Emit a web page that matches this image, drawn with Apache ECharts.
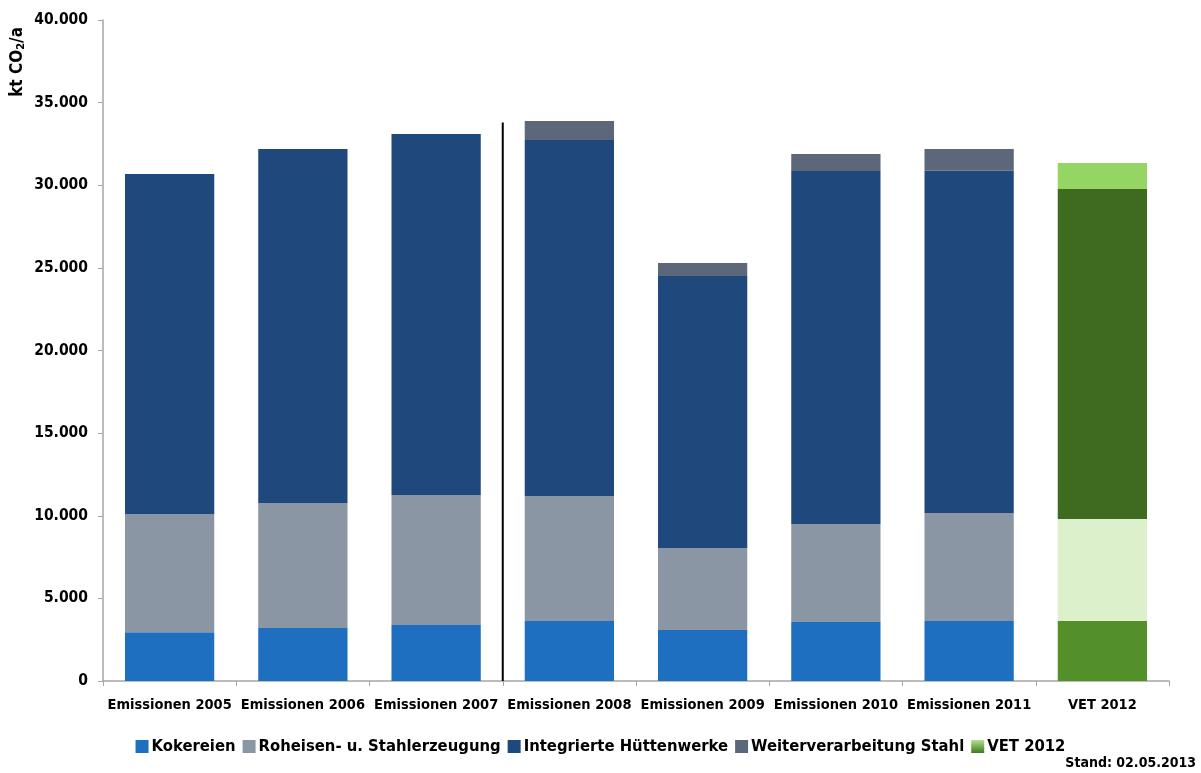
<!DOCTYPE html>
<html>
<head>
<meta charset="utf-8">
<script src="https://cdn.jsdelivr.net/npm/echarts@6/dist/echarts.min.js"></script>
<style>
  html, body { margin: 0; padding: 0; background: #fff; }
  #chart { width: 1201px; height: 773px; }
</style>
</head>
<body>
<div id="chart"></div>
<script>
// CO2 emissions of the iron & steel sector (kt CO2/a)
const categories = ['Emissionen 2005', 'Emissionen 2006', 'Emissionen 2007', 'Emissionen 2008',
  'Emissionen 2009', 'Emissionen 2010', 'Emissionen 2011', 'VET 2012'];

const kokereien      = [2950, 3200, 3390, 3630, 3090, 3570, 3630, 3630];
const roheisen       = [7150, 7570, 7860, 7570, 4960, 5930, 6540, 6170];
const integrierte    = [20580, 21420, 21850, 21540, 16460, 21360, 20700, 19970];
const weiterverarb   = [0, 0, 0, 1150, 790, 1030, 1330, 1570];

const seriesNames = ['Kokereien', 'Roheisen- u. Stahlerzeugung', 'Integrierte Hüttenwerke', 'Weiterverarbeitung Stahl'];
const emissionColors = ['#1F6FC0', '#8A96A3', '#1F497D', '#5C6779'];
const vetColors = ['#53902A', '#DBF0CB', '#3E6B1F', '#95D564'];
const vetIndex = 7;

// separator between 2007 and 2008 (position on a 0..8 helper axis, height in kt)
const separatorX = 3;
const separatorTop = 33800;

const yTicks = { min: 0, max: 40000, interval: 5000 };

const FONT = '"DejaVu Sans Condensed", "Liberation Sans Narrow", sans-serif';

function buildData(values, s) {
  return values.map((v, i) => {
    if (i === vetIndex) return { value: v, itemStyle: { color: vetColors[s] } };
    return v;
  });
}

const allValues = [kokereien, roheisen, integrierte, weiterverarb];

const series = allValues.map((vals, s) => ({
  name: seriesNames[s],
  type: 'bar',
  stack: 'total',
  barCategoryGap: '33%',
  itemStyle: { color: emissionColors[s] },
  data: buildData(vals, s)
}));

// legend-only entry for the VET 2012 colour family
series.push({
  name: 'VET 2012',
  type: 'bar',
  stack: 'total',
  itemStyle: {
    color: new echarts.graphic.LinearGradient(0, 0, 0, 1, [
      { offset: 0, color: '#B5E08F' },
      { offset: 1, color: '#3E7A1F' }
    ])
  },
  data: []
});

series.push({
  name: 'separator',
  type: 'line',
  xAxisIndex: 1,
  symbol: 'none',
  silent: true,
  lineStyle: { color: '#000', width: 2 },
  data: [[separatorX, 0], [separatorX, separatorTop]],
  z: 5
});

const chart = echarts.init(document.getElementById('chart'));
chart.setOption({
  animation: false,
  textStyle: { fontFamily: FONT },
  grid: { left: 103, right: 32, top: 20, bottom: 92, containLabel: false },
  xAxis: [{
    type: 'category',
    data: categories,
    axisLine: { lineStyle: { color: '#A6A6A6', width: 1.5 } },
    axisTick: { show: true, length: 5, lineStyle: { color: '#A6A6A6' } },
    axisLabel: { interval: 0, color: '#000', fontSize: 14.5, fontWeight: 'bold', fontFamily: FONT, margin: 17 }
  }, {
    type: 'value',
    min: 0, max: 8,
    show: false
  }],
  yAxis: {
    type: 'value',
    min: yTicks.min, max: yTicks.max, interval: yTicks.interval,
    splitLine: { show: false },
    axisLine: { show: true, lineStyle: { color: '#A6A6A6', width: 1.5 } },
    axisTick: { show: true, length: 5, lineStyle: { color: '#A6A6A6' } },
    axisLabel: {
      color: '#000', fontSize: 15.5, fontWeight: 'bold', fontFamily: FONT, margin: 15,
      formatter: v => v.toLocaleString('de-DE')
    }
  },
  legend: {
    data: ['Kokereien', 'Roheisen- u. Stahlerzeugung', 'Integrierte Hüttenwerke', 'Weiterverarbeitung Stahl', 'VET 2012'],
    left: 'center',
    top: 733,
    itemWidth: 13,
    itemHeight: 13,
    itemGap: 7,
    icon: 'rect',
    textStyle: { color: '#000', fontSize: 16.5, fontWeight: 'bold', fontFamily: FONT, padding: [0, 0, 0, -2] }
  },
  graphic: [{
    type: 'text',
    left: 9, top: 27,
    rotation: Math.PI / 2,
    style: {
      text: '{a|kt CO}{s|2}{a|/a}',
      rich: {
        a: { fontSize: 17, fontWeight: 'bold', fontFamily: FONT, fill: '#000' },
        s: { fontSize: 11, fontWeight: 'bold', fontFamily: FONT, fill: '#000', padding: [8, 0, 0, 0] }
      }
    }
  }, {
    type: 'text',
    right: 5, top: 756,
    style: { text: 'Stand: 02.05.2013', fontSize: 14, fontWeight: 'bold', fontFamily: FONT, fill: '#000' }
  }],
  series: series
});
</script>
</body>
</html>
